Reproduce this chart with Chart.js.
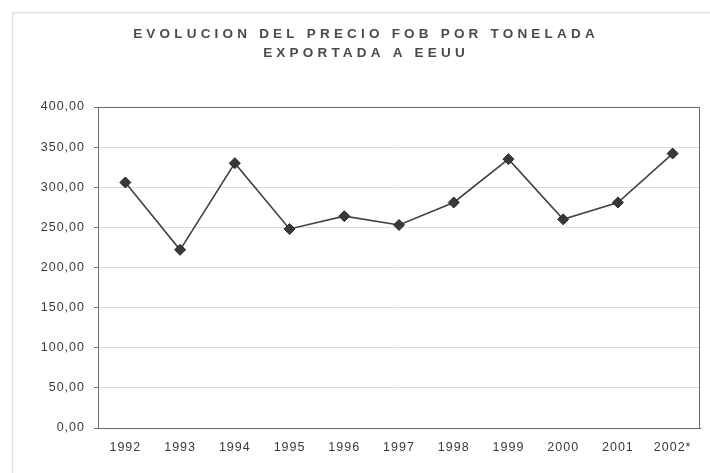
<!DOCTYPE html>
<html>
<head>
<meta charset="utf-8">
<script src="https://cdn.jsdelivr.net/npm/chart.js@4/dist/chart.umd.min.js"></script>
<style>
  html, body { margin: 0; padding: 0; background: #ffffff; }
  #wrap { width: 710px; height: 473px; position: relative; }
</style>
</head>
<body>
<div id="wrap"><canvas id="c" width="710" height="473"></canvas></div>
<script>
// Años (2002 provisional)
const years = ['1992', '1993', '1994', '1995', '1996', '1997', '1998', '1999', '2000', '2001', '2002*'];
// Precio FOB por tonelada exportada a EEUU
const fobPrice = [306, 222, 330, 248, 264, 253, 281, 335, 260, 281, 342];
// Título en dos líneas
const titleLines = ['EVOLUCION DEL PRECIO FOB POR TONELADA', 'EXPORTADA A EEUU'];
const yMin = 0, yMax = 400, yStep = 50;

const fmt = v => v.toFixed(2).replace('.', ',');

// Marco exterior, título espaciado y borde del área de trazado
const framePlugin = {
  id: 'frame',
  beforeDraw(chart) {
    const ctx = chart.ctx;
    ctx.save();
    ctx.fillStyle = '#ffffff';
    ctx.fillRect(0, 0, chart.width, chart.height);
    ctx.strokeStyle = '#e2e2e2';
    ctx.lineWidth = 1.5;
    ctx.beginPath();
    ctx.moveTo(12.5, chart.height);
    ctx.lineTo(12.5, 12.5);
    ctx.lineTo(chart.width, 12.5);
    ctx.stroke();
    ctx.restore();
    // espaciado de las etiquetas de los ejes
    ctx.letterSpacing = '1px';
  },
  afterDraw(chart) {
    const ctx = chart.ctx;
    const a = chart.chartArea;
    ctx.save();
    ctx.strokeStyle = '#6a6a6a';
    ctx.lineWidth = 1;
    ctx.strokeRect(Math.round(a.left) + 0.5, Math.round(a.top) + 0.5,
                   Math.round(a.right - a.left) - 1, Math.round(a.bottom - a.top));
    ctx.fillStyle = '#4a4a4a';
    ctx.font = 'bold 13.5px "Liberation Sans", Arial, sans-serif';
    ctx.textAlign = 'center';
    ctx.textBaseline = 'middle';
    ctx.letterSpacing = '4.2px';
    ctx.fillText(titleLines[0], 366, 34);
    ctx.fillText(titleLines[1], 366, 53);
    ctx.restore();
    ctx.letterSpacing = '0px';
  }
};

new Chart(document.getElementById('c'), {
  type: 'line',
  data: {
    labels: years,
    datasets: [{
      data: fobPrice,
      borderColor: '#424242',
      borderWidth: 1.6,
      pointStyle: 'rectRot',
      pointRadius: 5.5,
      pointBackgroundColor: '#383838',
      pointBorderColor: '#2a2a2a',
      pointBorderWidth: 1,
      tension: 0
    }]
  },
  plugins: [framePlugin],
  options: {
    responsive: false,
    animation: false,
    layout: { padding: { top: 107, right: 10, bottom: 0, left: 0 } },
    plugins: {
      legend: { display: false },
      title: { display: false },
      tooltip: { enabled: false }
    },
    scales: {
      x: {
        offset: true,
        grid: { display: false, drawTicks: false },
        border: { color: '#6a6a6a', width: 1 },
        ticks: {
          color: '#3a3a3a',
          font: { family: '"Liberation Sans", Arial, sans-serif', size: 12.5 },
          padding: 12,
          maxRotation: 0,
          autoSkip: false
        },
        afterFit(scale) { scale.height = 45; }
      },
      y: {
        min: yMin,
        max: yMax,
        grid: { color: '#dcdcdc', lineWidth: 1, tickLength: 4, tickColor: '#777777' },
        border: { color: '#6a6a6a', width: 1 },
        ticks: {
          stepSize: yStep,
          color: '#3a3a3a',
          font: { family: '"Liberation Sans", Arial, sans-serif', size: 12.5 },
          padding: 9,
          callback: v => fmt(v)
        },
        afterFit(scale) { scale.width = 98; }
      }
    }
  }
});
</script>
</body>
</html>
